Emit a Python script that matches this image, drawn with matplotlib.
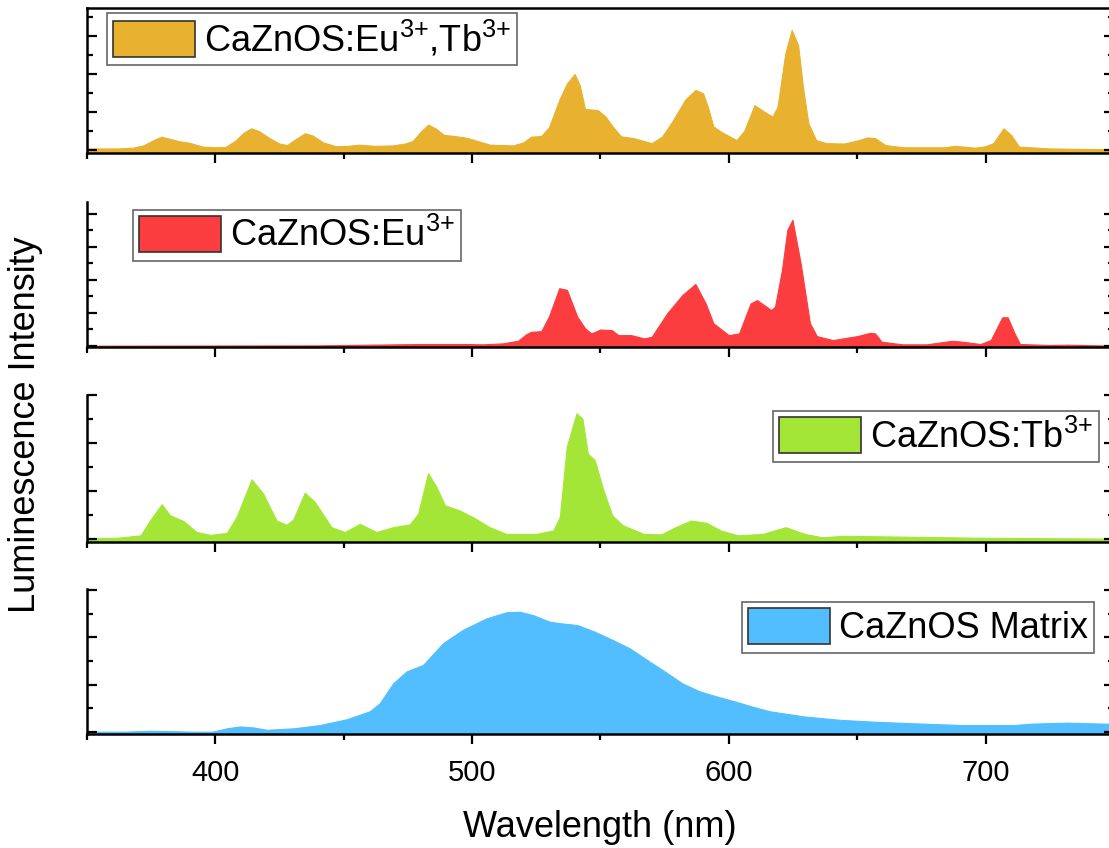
import matplotlib
matplotlib.use("Agg")
import matplotlib.pyplot as plt
from matplotlib.ticker import MultipleLocator, NullFormatter

plt.rcParams['font.family'] = ['Liberation Sans', 'DejaVu Sans']
plt.rcParams['mathtext.default'] = 'regular'

# emission spectra (wavelength in nm, intensity in arb. units per panel)
wl_eutb = [350, 362, 368, 372, 376, 379, 382, 386, 390, 395, 400, 404, 408, 411, 414, 417,
           421, 425, 428, 431, 435, 438, 442, 447, 452, 456, 462, 469, 474, 477, 480, 483,
           486, 489, 494, 498, 503, 507, 516, 520, 523, 527, 530, 534, 537, 540, 542, 544,
           549, 552, 555, 558, 563, 570, 574, 578, 583, 587, 590, 592, 594, 597, 603, 606,
           610, 614, 617, 619, 622, 624.5, 627, 629, 631, 634, 638, 645, 650, 654, 657, 661,
           668, 684, 688, 696, 700, 703, 707, 710, 713, 725, 750]
int_eutb = [0.04, 0.04, 0.06, 0.12, 0.26, 0.35, 0.30, 0.23, 0.19, 0.09, 0.07, 0.08, 0.25, 0.45,
            0.57, 0.50, 0.32, 0.17, 0.13, 0.27, 0.44, 0.38, 0.20, 0.10, 0.11, 0.14, 0.11, 0.12,
            0.17, 0.24, 0.48, 0.67, 0.56, 0.40, 0.36, 0.32, 0.22, 0.14, 0.12, 0.20, 0.35, 0.37,
            0.60, 1.32, 1.75, 2.00, 1.70, 1.08, 1.05, 0.88, 0.60, 0.36, 0.31, 0.18, 0.35, 0.75,
            1.32, 1.58, 1.49, 1.10, 0.62, 0.48, 0.26, 0.50, 1.18, 1.00, 0.88, 1.14, 2.54, 3.16,
            2.76, 1.60, 0.70, 0.26, 0.18, 0.17, 0.25, 0.33, 0.31, 0.13, 0.07, 0.07, 0.11, 0.06,
            0.10, 0.18, 0.57, 0.39, 0.09, 0.04, 0.02]

wl_eu = [350, 440, 460, 480, 498, 504, 512, 518, 521, 523, 527, 530, 534, 537, 541, 544,
         546.5, 550, 554.5, 557, 562, 567, 570, 576, 582, 587, 591, 594, 600, 604, 608.5, 611,
         616.5, 618, 620.7, 622.8, 624.8, 628, 631.6, 634.3, 640.5, 650, 655, 657, 659.5,
         667.7, 677, 687, 691, 698, 702, 706.5, 708.6, 711.3, 713.4, 725, 732, 750]
int_eu = [0.01, 0.02, 0.04, 0.06, 0.06, 0.05, 0.08, 0.16, 0.35, 0.43, 0.45, 0.90, 1.75, 1.70,
          0.89, 0.54, 0.38, 0.50, 0.48, 0.33, 0.33, 0.23, 0.28, 0.99, 1.55, 1.88, 1.29, 0.69,
          0.33, 0.38, 1.29, 1.39, 1.09, 1.19, 2.30, 3.52, 3.82, 2.50, 0.69, 0.30, 0.18, 0.30,
          0.40, 0.38, 0.13, 0.05, 0.05, 0.16, 0.13, 0.06, 0.18, 0.87, 0.87, 0.38, 0.06, 0.03,
          0.04, 0.01]

wl_tb = [350, 362, 371, 374.6, 379.2, 382.4, 387.6, 392.8, 398, 404.5, 408.3, 414.2, 418.7,
         423.9, 427.8, 430.4, 434.9, 438.8, 445.3, 450.5, 456.3, 462.8, 469.3, 475.8, 479,
         482.9, 486.2, 489.4, 495.2, 500.4, 506.9, 513.4, 525, 531.6, 534.2, 536.9, 540.7, 543,
         545.1, 547.8, 551.2, 554.6, 558.7, 566.9, 573.7, 579.2, 585.3, 591.4, 596.9, 603.7,
         613.2, 622.1, 629.6, 636.4, 644.6, 658.2, 697.7, 750]
int_tb = [0.01, 0.02, 0.07, 0.38, 0.72, 0.49, 0.37, 0.14, 0.08, 0.12, 0.45, 1.24, 0.94, 0.38,
          0.29, 0.40, 0.96, 0.77, 0.24, 0.14, 0.31, 0.14, 0.24, 0.30, 0.52, 1.37, 1.08, 0.70,
          0.59, 0.45, 0.24, 0.10, 0.10, 0.17, 0.45, 1.92, 2.62, 2.51, 1.78, 1.64, 1.01, 0.49,
          0.28, 0.10, 0.09, 0.24, 0.38, 0.33, 0.17, 0.07, 0.10, 0.24, 0.10, 0.03, 0.06, 0.05,
          0.02, 0.00]

wl_matrix = [350, 365, 375, 391, 399, 404.5, 409.6, 414.8, 420, 430.4, 440.8, 451.1, 460.2,
             464.1, 469.3, 474.5, 481, 488.8, 496.5, 505.6, 513.4, 518.6, 523.8, 530.3, 534.2,
             541, 547.8, 554.6, 561.4, 568.3, 575.1, 581.9, 588.7, 595.5, 602.3, 609.1, 615.9,
             629.6, 643.2, 656.8, 670.4, 690.9, 711.3, 718.1, 731.8, 745.4, 750]
int_matrix = [0.01, 0.01, 0.03, 0.01, 0.01, 0.08, 0.12, 0.10, 0.05, 0.08, 0.15, 0.27, 0.44,
              0.61, 1.03, 1.28, 1.42, 1.88, 2.16, 2.40, 2.53, 2.54, 2.47, 2.33, 2.30, 2.26,
              2.12, 1.95, 1.77, 1.52, 1.28, 1.03, 0.86, 0.75, 0.65, 0.54, 0.44, 0.33, 0.26,
              0.22, 0.19, 0.15, 0.15, 0.18, 0.20, 0.18, 0.18]

labels = [r'CaZnOS:Eu$^{3{+}}$,Tb$^{3{+}}$', r'CaZnOS:Eu$^{3{+}}$', r'CaZnOS:Tb$^{3{+}}$',
          'CaZnOS Matrix']
colors = ['#E8B230', '#FC3D3F', '#A4E637', '#52BEFF']
series = [(wl_eutb, int_eutb), (wl_eu, int_eu), (wl_tb, int_tb), (wl_matrix, int_matrix)]

# panel layout: (bottom, height) in figure fraction, y-limits, legend anchor
panel_box = [(0.8196, 0.1710), (0.5908, 0.1710), (0.3608, 0.1733), (0.1344, 0.1710)]
ylims = [(-0.079, 3.737), (-0.03, 4.36), (-0.07, 3.0), (-0.04, 3.02)]
leg_loc = ['upper left', 'upper left', 'upper right', 'upper right']
leg_anchor = [(0.0199, 0.9655), (0.045, 0.945), (0.985, 0.891), (0.981, 0.910)]

fig = plt.figure(figsize=(11.09, 8.48), dpi=100)
left, width = 0.0782, 0.9263

for i, ((wl, inten), lab, col) in enumerate(zip(series, labels, colors)):
    b, h = panel_box[i]
    ax = fig.add_axes([left, b, width, h])
    lo, hi = ylims[i]
    ax.fill_between(wl, inten, lo - 1, color=col, lw=0.8, edgecolor=col, label=lab)
    ax.set_xlim(350, 750)
    ax.set_ylim(lo, hi)

    ax.xaxis.set_major_locator(MultipleLocator(100))
    ax.xaxis.set_minor_locator(MultipleLocator(50))
    ax.yaxis.set_major_locator(MultipleLocator(1))
    ax.yaxis.set_minor_locator(MultipleLocator(0.5))
    ax.yaxis.set_major_formatter(NullFormatter())

    for s in ['left', 'bottom', 'right', 'top']:
        ax.spines[s].set_linewidth(1.8)
    ax.spines['top'].set_visible(i == 0)
    ax.spines['right'].set_visible(False)

    ax.tick_params(axis='y', which='both', direction='in', left=True, right=True,
                   width=1.6, labelleft=False)
    ax.tick_params(axis='y', which='major', length=7)
    ax.tick_params(axis='y', which='minor', length=4)
    ax.tick_params(axis='x', which='both', direction='out', top=False, width=1.6,
                   labelsize=21, pad=11)
    ax.tick_params(axis='x', which='major', length=7)
    ax.tick_params(axis='x', which='minor', length=4)
    if i < 3:
        ax.tick_params(axis='x', labelbottom=False)

    leg = ax.legend(loc=leg_loc[i], bbox_to_anchor=leg_anchor[i], borderaxespad=0,
                    fontsize=26, handlelength=2.27, handleheight=1.16, handletextpad=0.25,
                    borderpad=0.17, fancybox=False, framealpha=1)
    leg.get_frame().set_edgecolor('#666666')
    leg.get_frame().set_linewidth(1.2)
    for p in leg.get_patches():
        p.set_edgecolor('#333333')
        p.set_linewidth(1.2)

fig.text(26 / 1109, 1 - 425 / 848, 'Luminescence Intensity', rotation=90,
         ha='center', va='center', fontsize=26)
fig.text(600 / 1109, 1 - 837 / 848, 'Wavelength (nm)', ha='center', va='baseline',
         fontsize=26)

fig.savefig('out.png', dpi=100)
